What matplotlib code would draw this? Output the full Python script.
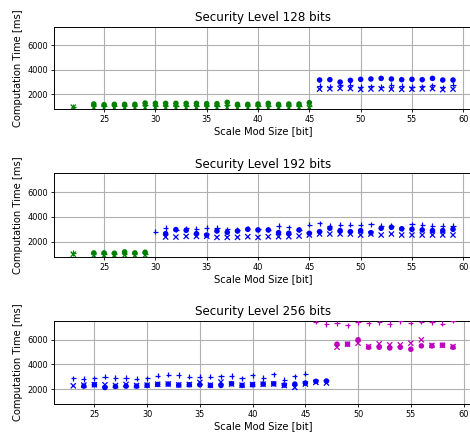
import matplotlib
matplotlib.use("Agg")
import matplotlib.pyplot as plt

# ---------------- data ----------------
# ring dimension groups -> colours
ring_colors = {"N13": "g", "N14": "b", "N15": "m"}

# Security level 128
l128_o_x = list(range(24, 60))
l128_o_y = [1208, 1154, 1181, 1181, 1181, 1290, 1262, 1262, 1262, 1262, 1262, 1235, 1235, 1344,
            1181, 1181, 1208, 1262, 1181, 1208, 1208, 1317,
            3167, 3195, 3000, 3140, 3220, 3250, 3300, 3250, 3195, 3220, 3195, 3300, 3167, 3167]
l128_o_n = ["N13"] * 22 + ["N14"] * 14

l128_p_x = [22] + list(range(24, 60))
l128_p_y = [1000, 1060, 1020, 1050, 1040, 1030, 1090, 1070, 1080, 1060, 1070, 1050, 1040, 1060,
            1100, 1050, 1040, 1060, 1080, 1040, 1050, 1060, 1050,
            2700, 2620, 2780, 2760, 2600, 2650, 2620, 2760, 2700, 2600, 2640, 2740, 2560, 2780]
l128_p_n = ["N13"] * 23 + ["N14"] * 14

l128_x_x = [22] + list(range(24, 60))
l128_x_y = [950, 900, 880, 890, 900, 890, 910, 900, 900, 890, 900, 910, 890, 900,
            920, 890, 900, 910, 890, 900, 890, 900, 920,
            2420, 2450, 2480, 2470, 2400, 2430, 2450, 2420, 2400, 2420, 2440, 2460, 2380, 2420]
l128_x_n = ["N13"] * 23 + ["N14"] * 14

# Security level 192
l192_o_x = list(range(24, 30)) + list(range(31, 60))
l192_o_y = [1105, 1105, 1080, 1187, 1105, 1160,
            2655, 2982, 2928, 2655, 2547, 2873, 2765, 2873, 3009, 2955, 2955, 2737, 2683, 2955,
            2683, 2819, 3091, 2900, 2819, 2900, 2737, 3091, 3172, 3050, 3009, 2955, 2900, 2900, 3009]
l192_o_n = ["N13"] * 6 + ["N14"] * 29

l192_p_x = [22] + list(range(24, 30)) + list(range(30, 60))
l192_p_y = [1100, 1000, 1000, 980, 1050, 1000, 1050,
            2819, 3118, 2990, 3091, 3036, 3118, 3145, 3000, 2950, 3050, 3000, 2980, 3281, 3172,
            2980, 3363, 3499, 3281, 3363, 3363, 3363, 3418, 3281, 3281, 3100, 3418, 3363, 3281,
            3281, 3281]
l192_p_n = ["N13"] * 7 + ["N14"] * 30

l192_x_x = [22] + list(range(24, 30)) + list(range(31, 60))
l192_x_y = [1000, 900, 900, 900, 920, 900, 920,
            2383, 2383, 2438, 2438, 2450, 2356, 2356, 2360, 2410, 2356, 2410, 2410, 2410, 2465,
            2547, 2628, 2628, 2628, 2628, 2547, 2628, 2547, 2628, 2547, 2547, 2547, 2547, 2547, 2547]
l192_x_n = ["N13"] * 7 + ["N14"] * 29

# Security level 256
l256_o_x = list(range(24, 60))
l256_o_y = [2249, 2358, 2140, 2222, 2249, 2249, 2304, 2386, 2413, 2331, 2358, 2358, 2304, 2304,
            2440, 2304, 2358, 2413, 2440, 2331, 2413, 2495, 2632, 2659,
            5643, 5643, 5998, 5396, 5396, 5341, 5396, 5232, 5506, 5506, 5560, 5396]
l256_o_n = ["N14"] * 24 + ["N15"] * 12

l256_p_x = list(range(23, 60))
l256_p_y = [2878, 2823, 2878, 3015, 2905, 2905, 2851, 2878, 3098, 3180, 3152, 3015, 3015, 3015,
            3043, 3070, 2878, 3125, 2905, 3207, 2769, 3043, 3262,
            7452, 7285, 7340, 7175, 7400, 7340, 7400, 7285, 7480, 7370, 7450, 7425, 7313, 7560]
l256_p_n = ["N14"] * 23 + ["N15"] * 14

l256_x_x = list(range(23, 60))
l256_x_y = [2276, 2330, 2358, 2358, 2300, 2386, 2300, 2330, 2400, 2420, 2350, 2380, 2550, 2330,
            2577, 2420, 2330, 2380, 2400, 2420, 2300, 2140, 2420, 2550, 2500,
            5396, 5643, 5725, 5450, 5670, 5588, 5588, 5725, 5998, 5550, 5560, 5450]
l256_x_n = ["N14"] * 25 + ["N15"] * 12

titles = ["Security Level 128 bits", "Security Level 192 bits", "Security Level 256 bits"]
xlabel = "Scale Mod Size [bit]"
ylabel = "Computation Time [ms]"
yticks = [2000, 4000, 6000]

panels = [
    [(l128_o_x, l128_o_y, l128_o_n, "o"), (l128_p_x, l128_p_y, l128_p_n, "+"), (l128_x_x, l128_x_y, l128_x_n, "x")],
    [(l192_o_x, l192_o_y, l192_o_n, "o"), (l192_p_x, l192_p_y, l192_p_n, "+"), (l192_x_x, l192_x_y, l192_x_n, "x")],
    [(l256_o_x, l256_o_y, l256_o_n, "o"), (l256_p_x, l256_p_y, l256_p_n, "+"), (l256_x_x, l256_x_y, l256_x_n, "x")],
]

# ---------------- plot ----------------
plt.rcParams["font.family"] = ["DejaVu Sans"]
plt.rcParams["font.size"] = 7.2
plt.rcParams["axes.linewidth"] = 0.7

fig = plt.figure(figsize=(4.7, 4.32), dpi=100)
W, H = 470.0, 432.0
left_px, right_px = 54.3, 472.0
tops = [26.7, 173.3, 321.0]
bottoms = [109.0, 256.7, 404.0]

for i, series in enumerate(panels):
    ax = fig.add_axes([left_px / W, 1 - bottoms[i] / H, (right_px - left_px) / W,
                       (bottoms[i] - tops[i]) / H])
    ax.set_axisbelow(True)
    ax.grid(True, color="#b0b0b0", linewidth=0.8)
    allx = []
    for xs, ys, ns, mk in series:
        cols = [ring_colors[n] for n in ns]
        ax.scatter(xs, ys, c=cols, marker=mk, s=16 if mk == "o" else 14,
                   linewidths=0.9 if mk != "o" else 0, zorder=3)
        allx += xs
    xmin, xmax = min(allx), max(allx)
    m = 0.05 * (xmax - xmin)
    ax.set_xlim(xmin - m, xmax + m)
    ax.set_ylim(800, 7520)
    ax.set_yticks(yticks)
    ax.set_xticks([25, 30, 35, 40, 45, 50, 55, 60])
    ax.tick_params(labelsize=5.9, length=2.5, width=0.6, pad=2)
    ax.set_title(titles[i], fontsize=8.6, pad=4)
    ax.set_xlabel(xlabel, fontsize=7.2, labelpad=1.5)
    ax.set_ylabel(ylabel, fontsize=7.2, labelpad=3)

fig.savefig("out.png", dpi=100)
